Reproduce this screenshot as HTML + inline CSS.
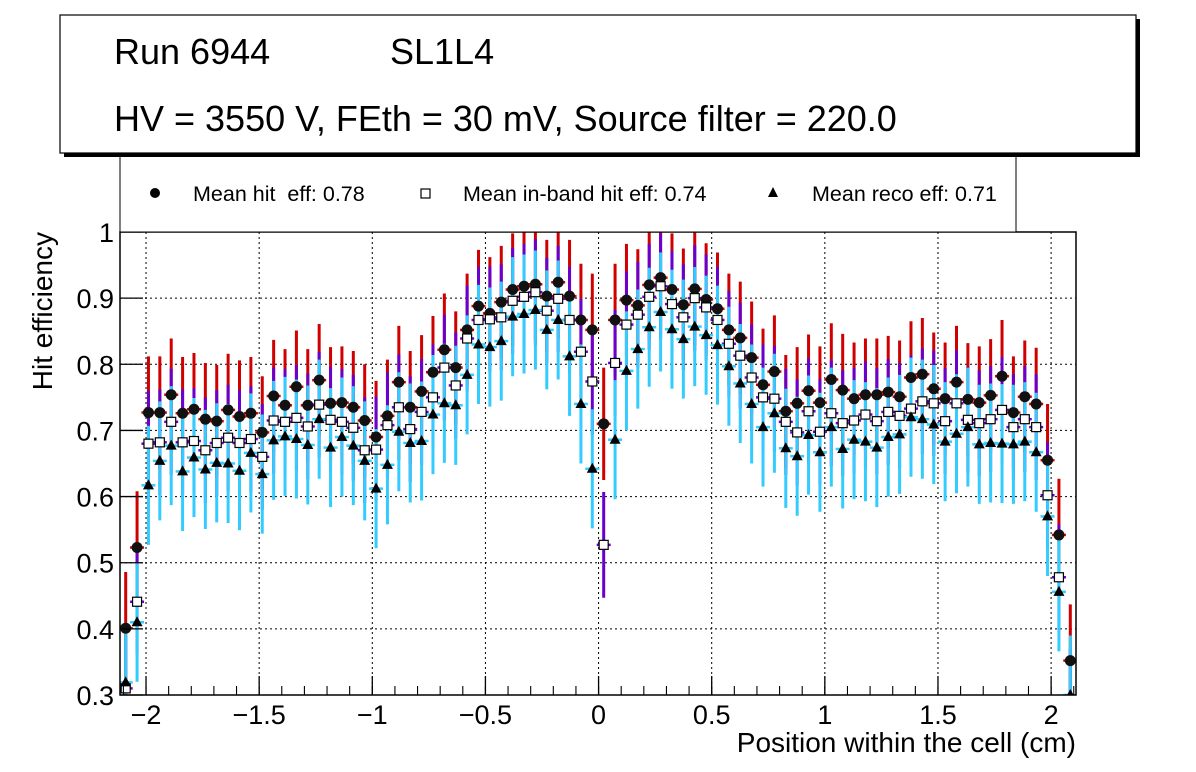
<!DOCTYPE html>
<html><head><meta charset="utf-8">
<style>
html,body{margin:0;background:#fff;overflow:hidden;width:1196px;height:772px;}
svg{display:block;font-family:"Liberation Sans",sans-serif;}
</style></head><body>
<svg id="chart" width="1196" height="772" viewBox="0 0 1196 772">
<defs><clipPath id="plotclip"><rect x="120" y="232" width="956" height="463"/></clipPath></defs>
<rect x="0" y="0" width="1196" height="772" fill="#fff"/>
<g id="grid"></g>
<g id="series" clip-path="url(#plotclip)"></g>
<rect x="120" y="232" width="956" height="463" fill="none" stroke="#000" stroke-width="1.5"/>
<g id="axes"></g>
<text x="1076" y="752" text-anchor="end" font-size="28">Position within the cell (cm)</text>
<text transform="translate(52,232) rotate(-90)" text-anchor="end" font-size="28">Hit efficiency</text>
<g>
<rect x="120" y="150" width="896" height="82" fill="#fff" stroke="#000" stroke-width="1"/>
<circle cx="155" cy="193" r="5" fill="#000"/>
<text x="193" y="201" font-size="21.5" xml:space="preserve">Mean hit  eff: 0.78</text>
<rect x="421" y="189" width="9" height="9" fill="#fff" stroke="#000" stroke-width="1.2"/>
<text x="463" y="201" font-size="21.5">Mean in-band hit eff: 0.74</text>
<polygon points="773,187 778,197 768,197" fill="#000"/>
<text x="812" y="201" font-size="21.5">Mean reco eff: 0.71</text>
</g>
<g>
<rect x="64" y="19" width="1076" height="138" fill="#000"/>
<rect x="60" y="15" width="1076" height="138" fill="#fff" stroke="#000" stroke-width="1.2"/>
<text x="114" y="64" font-size="36">Run 6944</text>
<text x="390" y="64" font-size="36">SL1L4</text>
<text x="114" y="131" font-size="36">HV = 3550 V, FEth = 30 mV, Source filter = 220.0</text>
</g>
</svg>
<script>
const xMin = -2.115, xMax = 2.11, nBins = 84;
const yMin = 0.3, yMax = 1.0;
const xTicks = [-2, -1.5, -1, -0.5, 0, 0.5, 1, 1.5, 2];
const xTickLabels = ["\u22122", "\u22121.5", "\u22121", "\u22120.5", "0", "0.5", "1", "1.5", "2"];
const yTicks = [0.3, 0.4, 0.5, 0.6, 0.7, 0.8, 0.9, 1.0];
const yTickLabels = ["0.3", "0.4", "0.5", "0.6", "0.7", "0.8", "0.9", "1"];
const hitEff = [0.401,0.523,0.727,0.727,0.754,0.726,0.732,0.717,0.714,0.731,0.721,0.726,0.697,0.752,0.738,0.766,0.738,0.776,0.741,0.742,0.735,0.715,
0.690,0.722,0.773,0.735,0.759,0.788,0.822,0.795,0.852,0.888,0.877,0.894,0.913,0.918,0.921,0.903,0.924,0.903,0.867,0.852,0.710,
0.867,0.897,0.889,0.920,0.931,0.913,0.890,0.914,0.898,0.884,0.852,0.840,0.810,0.769,0.789,0.729,0.741,0.760,0.742,0.777,0.761,
0.748,0.754,0.754,0.758,0.751,0.780,0.785,0.763,0.748,0.773,0.747,0.742,0.753,0.782,0.727,0.751,0.740,0.655,0.542,0.352];
const inbandEff = [0.310,0.441,0.680,0.682,0.713,0.682,0.684,0.670,0.681,0.689,0.681,0.687,0.660,0.715,0.713,0.719,0.706,0.739,0.716,0.713,0.704,0.670,
0.671,0.708,0.735,0.702,0.728,0.750,0.795,0.768,0.839,0.867,0.868,0.871,0.896,0.902,0.909,0.881,0.899,0.867,0.819,0.774,0.527,
0.802,0.860,0.875,0.902,0.918,0.891,0.871,0.900,0.886,0.867,0.831,0.813,0.780,0.750,0.748,0.713,0.697,0.729,0.698,0.726,0.711,
0.715,0.724,0.714,0.728,0.722,0.733,0.744,0.741,0.714,0.741,0.716,0.711,0.717,0.731,0.705,0.717,0.705,0.602,0.478,0.290];
const recoEff = [0.319,0.410,0.617,0.654,0.677,0.638,0.659,0.641,0.651,0.650,0.639,0.666,0.634,0.685,0.691,0.687,0.678,0.717,0.674,0.690,0.677,0.654,
0.612,0.648,0.698,0.681,0.684,0.724,0.741,0.738,0.784,0.830,0.826,0.835,0.872,0.876,0.882,0.852,0.867,0.812,0.740,0.642,0.0,
0.686,0.790,0.823,0.856,0.879,0.853,0.838,0.857,0.844,0.829,0.797,0.771,0.740,0.705,0.726,0.673,0.661,0.693,0.667,0.705,0.672,
0.686,0.683,0.674,0.690,0.694,0.720,0.717,0.709,0.683,0.695,0.705,0.679,0.681,0.680,0.679,0.683,0.667,0.570,0.456,0.300];
const hitErr = [0.085];
const inbandErr = [0.08];
const recoErr = [0.09];

const PX0 = 120, PX1 = 1076, PY0 = 232, PY1 = 695;
function sx(v){ return PX0 + (v - xMin) / (xMax - xMin) * (PX1 - PX0); }
function sy(v){ return PY1 - (v - yMin) / (yMax - yMin) * (PY1 - PY0); }
function binCenter(i){ return xMin + (i + 0.5) * (xMax - xMin) / nBins; }
const NS = "http://www.w3.org/2000/svg";
function mk(tag, attrs, parent){ const e = document.createElementNS(NS, tag); for (const k in attrs) e.setAttribute(k, attrs[k]); parent.appendChild(e); return e; }

const grid = document.getElementById('grid');
const axes = document.getElementById('axes');
const series = document.getElementById('series');

xTicks.forEach((t, i) => {
  const x = sx(t);
  const g = mk('line', {x1:x, x2:x, y1:PY0, y2:PY1, stroke:'#000', 'stroke-width':1, 'stroke-dasharray':'2,3'}, grid);
  
  
  const tk = mk('line', {x1:x, x2:x, y1:PY1, y2:PY1-19, stroke:'#000', 'stroke-width':1.3}, axes);
  
  
  const lb = mk('text', {x:x, y:PY1+29, 'text-anchor':'middle', 'font-size':27}, axes);
  lb.textContent = xTickLabels[i];
  
  
});
for (let v = -2.1; v <= 2.1001; v += 0.1) {
  const x = sx(v);
  const m = mk('line', {x1:x, x2:x, y1:PY1, y2:PY1-9, stroke:'#000', 'stroke-width':1.1}, axes);
  
  
}
yTicks.forEach((t, i) => {
  const y = sy(t);
  const g = mk('line', {x1:PX0, x2:PX1, y1:y, y2:y, stroke:'#000', 'stroke-width':1, 'stroke-dasharray':'2,3'}, grid);
  
  
  const tk = mk('line', {x1:PX0, x2:PX0+23, y1:y, y2:y, stroke:'#000', 'stroke-width':1.3}, axes);
  
  
  const lb = mk('text', {x:PX0-6, y:y+10, 'text-anchor':'end', 'font-size':27}, axes);
  lb.textContent = yTickLabels[i];
  
  
});

function drawErr(vals, err, color, name){
  vals.forEach((v, i) => {
    const x = sx(binCenter(i));
    const l = mk('line', {x1:x, x2:x, y1:sy(v+err), y2:sy(v-err), stroke:color, 'stroke-width':3}, series);
    
    
    const h = mk('line', {x1:x-7, x2:x+7, y1:sy(v), y2:sy(v), stroke:color, 'stroke-width':2.5}, series);
    
    
  });
}
drawErr(hitEff, hitErr[0], '#d00000', 'hit-error-bar');
drawErr(inbandEff, inbandErr[0], '#6a00cc', 'inband-error-bar');
drawErr(recoEff, recoErr[0], '#33ccff', 'reco-error-bar');

hitEff.forEach((v, i) => {
  const c = mk('circle', {cx:sx(binCenter(i)), cy:sy(v), r:5.5, fill:'#111'}, series);
  
  
});
inbandEff.forEach((v, i) => {
  const x = sx(binCenter(i)), y = sy(v);
  const r = mk('rect', {x:x-4.5, y:y-4.5, width:9, height:9, fill:'#fff', stroke:'#000', 'stroke-width':1.2}, series);
  
  
});
recoEff.forEach((v, i) => {
  const x = sx(binCenter(i)), y = sy(v);
  const p = mk('polygon', {points:`${x},${y-6} ${x+5.5},${y+4} ${x-5.5},${y+4}`, fill:'#000'}, series);
  
  
});
</script>
</body></html>
